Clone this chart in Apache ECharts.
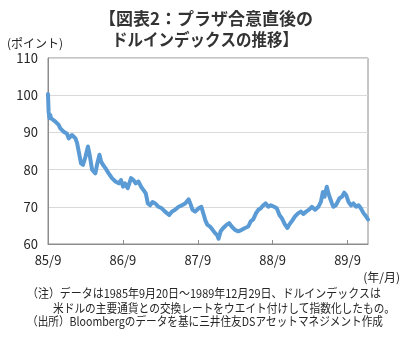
<!DOCTYPE html>
<html>
<head>
<meta charset="utf-8">
<script src="https://cdn.jsdelivr.net/npm/echarts@6/dist/echarts.min.js"></script>
<style>
  html, body { margin: 0; padding: 0; background: #fff; }
  #chart { width: 412px; height: 338px; }
</style>
</head>
<body>
<div id="chart"></div>
<script>
// Dollar index after the Plaza Accord (1985-09-20 = 100)
const dates = [
  '1985-09-20','1985-09-23','1985-09-27','1985-10-01','1985-10-05','1985-10-14','1985-10-26','1985-11-11','1985-11-19','1985-12-05',
  '1985-12-21','1985-12-30','1986-01-15','1986-02-01','1986-02-09','1986-02-17','1986-02-28','1986-03-10','1986-03-22','1986-04-03',
  '1986-04-11','1986-04-23','1986-05-09','1986-05-17','1986-05-29','1986-06-06','1986-06-15','1986-06-27','1986-07-13','1986-07-29',
  '1986-08-15','1986-08-31','1986-09-11','1986-09-21','1986-10-01','1986-10-14','1986-10-30','1986-11-11','1986-11-22','1986-12-05',
  '1986-12-18','1986-12-30','1987-01-10','1987-01-20','1987-01-31','1987-02-12','1987-02-25','1987-03-13','1987-03-29','1987-04-14',
  '1987-05-04','1987-05-17','1987-06-02','1987-06-19','1987-07-05','1987-07-21','1987-08-07','1987-08-15','1987-08-26','1987-09-08',
  '1987-09-25','1987-10-08','1987-10-20','1987-10-28','1987-11-06','1987-11-19','1987-12-02','1987-12-13','1987-12-25','1987-12-31',
  '1988-01-10','1988-01-23','1988-02-09','1988-02-21','1988-03-04','1988-03-20','1988-04-05','1988-04-22','1988-05-08','1988-05-24',
  '1988-06-05','1988-06-17','1988-07-01','1988-07-12','1988-07-24','1988-08-05','1988-08-17','1988-08-30','1988-09-11','1988-09-27',
  '1988-10-10','1988-10-23','1988-11-03','1988-11-08','1988-11-19','1988-12-01','1988-12-10','1988-12-22','1989-01-07','1989-01-23',
  '1989-02-04','1989-02-17','1989-03-02','1989-03-18','1989-03-30','1989-04-15','1989-05-01','1989-05-13','1989-05-23','1989-05-31',
  '1989-06-11','1989-06-19','1989-06-27','1989-07-06','1989-07-13','1989-07-25','1989-08-02','1989-08-12','1989-08-24','1989-09-04',
  '1989-09-14','1989-09-25','1989-10-07','1989-10-19','1989-11-01','1989-11-13','1989-11-24','1989-12-07','1989-12-20','1989-12-29'
];
const dollarIndex = [
  100.3, 95.5, 93.8, 94.7, 93.8, 94.2, 92.9, 92.0, 91.1, 90.2,
  89.7, 88.4, 89.3, 88.4, 87.1, 84.8, 81.7, 81.3, 83.5, 86.2,
  84.0, 80.0, 79.0, 81.3, 84.0, 82.2, 81.3, 80.4, 79.0, 77.7,
  76.8, 76.3, 77.2, 75.4, 76.3, 75.0, 77.7, 77.2, 76.3, 76.8,
  75.4, 74.5, 73.6, 70.9, 70.4, 71.3, 70.9, 70.0, 69.6, 68.7,
  67.8, 68.7, 69.2, 70.0, 70.4, 70.9, 72.0, 70.9, 69.2, 68.7,
  69.6, 70.0, 67.8, 66.3, 65.2, 64.7, 63.8, 63.0, 62.3, 61.4,
  63.4, 64.3, 65.2, 65.6, 64.7, 63.8, 63.4, 63.8, 64.3, 64.7,
  66.1, 66.6, 68.3, 69.2, 69.6, 70.4, 70.9, 70.0, 70.4, 70.0,
  69.6, 67.8, 67.0, 66.6, 65.2, 64.3, 65.2, 66.1, 67.4, 68.3,
  68.7, 68.1, 68.7, 69.3, 70.0, 69.2, 70.0, 71.3, 74.0, 72.7,
  75.4, 73.6, 72.3, 70.9, 70.0, 70.4, 70.0, 72.3, 72.7, 73.8,
  73.1, 71.3, 70.4, 70.9, 70.0, 70.4, 69.6, 68.3, 67.4, 66.6
];
const xTickLabels = ['85/9', '86/9', '87/9', '88/9', '89/9'];
const yTicks = [60, 70, 80, 90, 100, 110];

const titleLines = ['【図表2：プラザ合意直後の', 'ドルインデックスの推移】'];
const yUnit = '(ポイント)';
const xUnit = '(年/月)';
const notes = [
  '（注）データは1985年9月20日～1989年12月29日、ドルインデックスは',
  '米ドルの主要通貨との交換レートをウエイト付けして指数化したもの。',
  '（出所）Bloombergのデータを基に三井住友DSアセットマネジメント作成'
];

const DAY = 86400000;
const t0 = Date.parse(dates[0]);
const tEnd = Date.parse(dates[dates.length - 1]);
const YEAR = 365.25 * DAY;
const seriesData = dates.map((d, i) => [Date.parse(d), dollarIndex[i]]);

const FONT = '"Noto Sans CJK JP", "Noto Sans", sans-serif';
const chart = echarts.init(document.getElementById('chart'), null, { renderer: 'canvas' });

// text placed at (x, y), squeezed horizontally if wider than the given width
function fitText(str, x, y, font, width, fill, bold) {
  const f = (bold ? 'bold ' : '') + font + 'px ' + FONT;
  const w = echarts.format.getTextRect ? echarts.format.getTextRect(str, f).width : width;
  const sx = Math.min(1, width / w);
  return {
    type: 'text', x: x, y: y, scaleX: sx, originX: 0,
    style: { text: str, font: f, fill: fill || '#262626', textVerticalAlign: 'middle' }
  };
}
function centerText(str, cx, y, font, width, fill) {
  const f = 'bold ' + font + 'px ' + FONT;
  const w = echarts.format.getTextRect ? echarts.format.getTextRect(str, f).width : width;
  const sx = Math.min(1, width / w);
  return {
    type: 'text', x: cx - Math.min(w, width) / 2, y: y, scaleX: sx,
    style: { text: str, font: f, fill: fill, textVerticalAlign: 'middle' }
  };
}

chart.setOption({
  backgroundColor: '#ffffff',
  animation: false,
  textStyle: { fontFamily: FONT },
  grid: { left: 48, right: 44, top: 58, bottom: 94, show: true, borderColor: '#8c8c8c', borderWidth: 1 },
  xAxis: {
    type: 'value',
    min: t0,
    max: tEnd,
    interval: YEAR,
    axisLine: { show: true, lineStyle: { color: '#8c8c8c', width: 1 } },
    axisTick: { show: true, inside: true, length: 4, lineStyle: { color: '#8c8c8c' } },
    splitLine: { show: false },
    axisLabel: {
      color: '#262626', fontSize: 13, margin: 10, fontFamily: FONT,
      showMaxLabel: false,
      formatter: v => xTickLabels[Math.round((v - t0) / YEAR)] || ''
    }
  },
  yAxis: {
    type: 'value',
    min: yTicks[0],
    max: yTicks[yTicks.length - 1],
    interval: 10,
    axisLine: { show: true, lineStyle: { color: '#8c8c8c', width: 1 } },
    axisTick: { show: false },
    splitLine: { show: true, lineStyle: { color: '#d9d9d9', width: 1 } },
    axisLabel: { color: '#262626', fontSize: 13, margin: 10, fontFamily: FONT }
  },
  series: [{
    type: 'line',
    data: seriesData,
    showSymbol: false,
    smooth: false,
    lineStyle: { color: '#5b9bd5', width: 4, join: 'round', cap: 'round' },
    itemStyle: { color: '#5b9bd5' }
  }],
  graphic: [
    centerText(titleLines[0], 206, 19, 17, 214, '#333333'),
    centerText(titleLines[1], 205, 40, 17, 186, '#333333'),
    { type: 'text', x: 7, y: 43, style: { text: yUnit, font: '12px ' + FONT, fill: '#262626', textVerticalAlign: 'middle' } },
    { type: 'text', x: 400, y: 277, style: { text: xUnit, font: '12px ' + FONT, fill: '#262626', textAlign: 'right', textVerticalAlign: 'middle' } },
    fitText(notes[0], 27, 293, 12, 354, '#262626'),
    fitText(notes[1], 53, 308, 12, 342, '#262626'),
    fitText(notes[2], 27, 321, 12, 356, '#262626')
  ]
});
</script>
</body>
</html>
